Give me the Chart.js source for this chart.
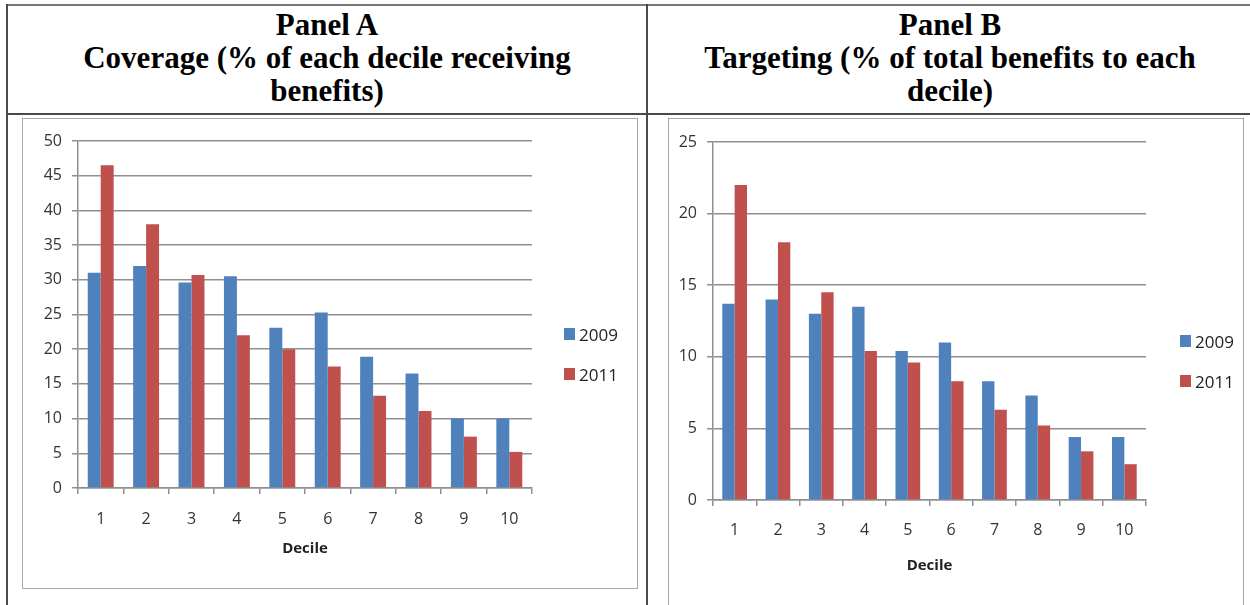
<!DOCTYPE html>
<html>
<head>
<meta charset="utf-8">
<title>Coverage and targeting by decile</title>
<script src="https://cdn.jsdelivr.net/npm/chart.js@4"></script>
<style>
  body { margin: 0; width: 1250px; height: 605px; overflow: hidden; position: relative; background: #fff; }
  .rule { position: absolute; background: #4a4a4a; }
  .title {
    position: absolute; top: 8px; text-align: center;
    font: bold 31px/33px "Liberation Serif", "Times New Roman", serif; color: #000;
  }
  .frame { position: absolute; border: 1px solid #a8a8a8; background: #fff; }
  .frame canvas { position: absolute; left: 0; top: 0; }
  .legend { position: absolute; font: 17px "Open Sans", sans-serif; color: #222; }
  .legend div { height: 40px; display: flex; align-items: center; }
  .legend span.box { width: 11px; height: 12px; margin-right: 4px; display: inline-block; }
</style>
</head>
<body>
<!-- table lines -->
<div class="rule" style="left:6px;top:4px;width:1244px;height:2px;background:#777"></div>
<div class="rule" style="left:6px;top:4px;width:2px;height:601px"></div>
<div class="rule" style="left:646px;top:4px;width:2px;height:601px"></div>
<div class="rule" style="left:6px;top:113px;width:1244px;height:2px"></div>

<div class="title" style="left:8px;width:638px">Panel A<br>Coverage (% of each decile receiving<br>benefits)</div>
<div class="title" style="left:648px;width:604px">Panel B<br>Targeting (% of total benefits to each<br>decile)</div>

<div class="frame" id="frameA" style="left:22px;top:118px;width:614px;height:469px">
  <canvas id="coverageChart" width="614" height="469"></canvas>
  <div class="legend" id="legendA" style="left:541px;top:195px"></div>
</div>
<div class="frame" id="frameB" style="left:668px;top:118px;width:574px;height:486px">
  <canvas id="targetingChart" width="574" height="486"></canvas>
  <div class="legend" id="legendB" style="left:511px;top:202px"></div>
</div>

<script>
const deciles = ['1', '2', '3', '4', '5', '6', '7', '8', '9', '10'];
const years = ['2009', '2011'];
const yearColors = ['#4F81BD', '#C0504D'];

// Panel A: % of each decile receiving benefits
const coverage2009 = [31.0, 32.0, 29.6, 30.5, 23.1, 25.3, 18.9, 16.5, 10.0, 10.0];
const coverage2011 = [46.5, 38.0, 30.7, 22.0, 20.0, 17.5, 13.3, 11.1, 7.4, 5.2];

// Panel B: % of total benefits going to each decile
const targeting2009 = [13.7, 14.0, 13.0, 13.5, 10.4, 11.0, 8.3, 7.3, 4.4, 4.4];
const targeting2011 = [22.0, 18.0, 14.5, 10.4, 9.6, 8.3, 6.3, 5.2, 3.4, 2.5];

const tickFont = { family: '"Open Sans", sans-serif', size: 16 };
const gridGrey = '#8f8f8f';

function makeDatasets(a, b) {
  return [a, b].map((vals, i) => ({
    label: years[i],
    data: vals,
    backgroundColor: yearColors[i],
    borderWidth: 0,
    categoryPercentage: 0.571,
    barPercentage: 1
  }));
}

function makeChart(canvasId, values, opts) {
  const ctx = document.getElementById(canvasId).getContext('2d');
  return new Chart(ctx, {
    type: 'bar',
    data: { labels: deciles, datasets: makeDatasets(values[0], values[1]) },
    options: {
      responsive: false,
      animation: false,
      layout: { padding: opts.padding },
      plugins: { legend: { display: false }, tooltip: { enabled: false } },
      scales: {
        x: {
          offset: true,
          grid: { display: true, drawOnChartArea: false, drawTicks: true, tickLength: 6, color: gridGrey, lineWidth: 1.5, offset: true },
          border: { color: gridGrey, width: 1.5 },
          ticks: { color: '#333', font: tickFont, padding: opts.xPad, maxRotation: 0 },
          title: {
            display: true, text: 'Decile', color: '#222',
            font: { family: '"Open Sans", sans-serif', size: 15, weight: 'bold' },
            padding: { top: 0, bottom: opts.titleBottom }
          },
          afterFit: s => { s.height = opts.xHeight; }
        },
        y: {
          min: 0, max: opts.max,
          grid: { color: gridGrey, lineWidth: 1.5, tickLength: 6 },
          border: { color: gridGrey, width: 1.5 },
          ticks: { stepSize: 5, color: '#333', font: tickFont, padding: opts.yPad },
          afterFit: s => { s.width = opts.yWidth; }
        }
      }
    }
  });
}

// legend built from the chart's own label items
function buildLegend(chart, el) {
  const items = Chart.defaults.plugins.legend.labels.generateLabels(chart);
  items.forEach(item => {
    const row = document.createElement('div');
    const box = document.createElement('span');
    box.className = 'box';
    box.style.background = item.fillStyle;
    row.appendChild(box);
    row.appendChild(document.createTextNode(item.text));
    el.appendChild(row);
  });
}

const coverageChart = makeChart('coverageChart', [coverage2009, coverage2011], {
  max: 50, padding: { top: 22, right: 105, bottom: 0, left: 0 },
  yWidth: 55, yPad: 10, xHeight: 100, xPad: 16, titleBottom: 30
});
buildLegend(coverageChart, document.getElementById('legendA'));

const targetingChart = makeChart('targetingChart', [targeting2009, targeting2011], {
  max: 25, padding: { top: 23, right: 97, bottom: 0, left: 0 },
  yWidth: 44, yPad: 10, xHeight: 105, xPad: 15, titleBottom: 30
});
buildLegend(targetingChart, document.getElementById('legendB'));
</script>
</body>
</html>
